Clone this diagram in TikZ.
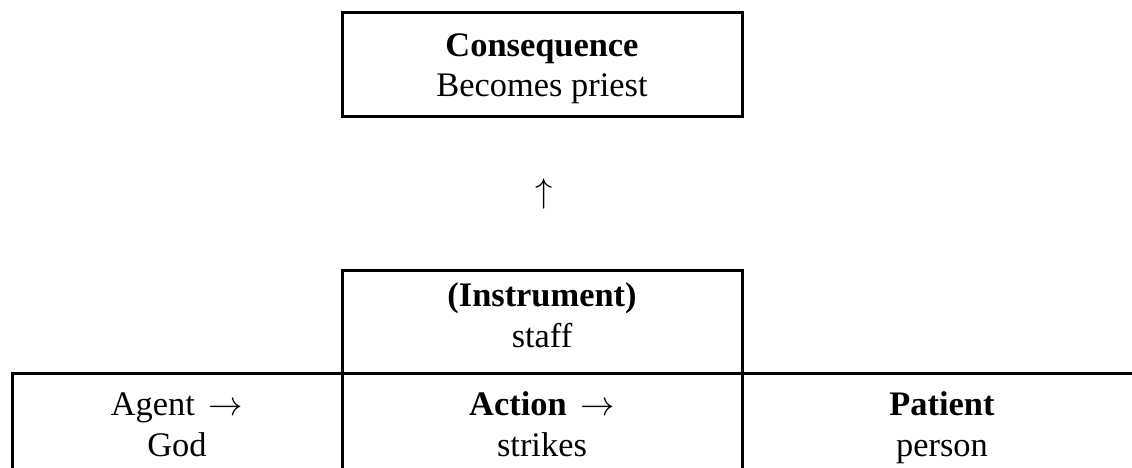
\RequirePackage{fix-cm}
\documentclass[tikz,border=0pt]{standalone}
\usepackage{fontspec}
\setmainfont{Liberation Serif}

\begin{document}
\begin{tikzpicture}
  [x=1pt,y=-1pt,every node/.style={inner sep=0pt,align=center,font=\fontsize{34.4}{40.6}\selectfont},
   cell/.style={draw,line width=3pt,text depth=16pt}]
  \clip (0,0) rectangle (1132,468);
  \node[cell,minimum width=400pt,minimum height=104pt,text height=80pt] (cons) at (542,65) {\textbf{Consequence}\\Becomes priest};
  \node (up) at (544,193.5) {$\uparrow$};
  \node[cell,minimum width=400pt,minimum height=103pt,text height=67pt] (instr) at (542,321.5) {\textbf{(Instrument)}\\staff};
  \node[cell,minimum width=330pt,minimum height=104pt,text height=78pt] (agent) at (177,425) {Agent\hspace{.4em}$\rightarrow$\\God};
  \node[cell,minimum width=400pt,minimum height=104pt,text height=78pt] (action) at (542,425) {\textbf{Action}\hspace{.4em}$\rightarrow$\\strikes};
  \node[cell,minimum width=400pt,minimum height=104pt,text height=78pt] (patient) at (942,425) {\textbf{Patient}\\person};
\end{tikzpicture}
\end{document}
